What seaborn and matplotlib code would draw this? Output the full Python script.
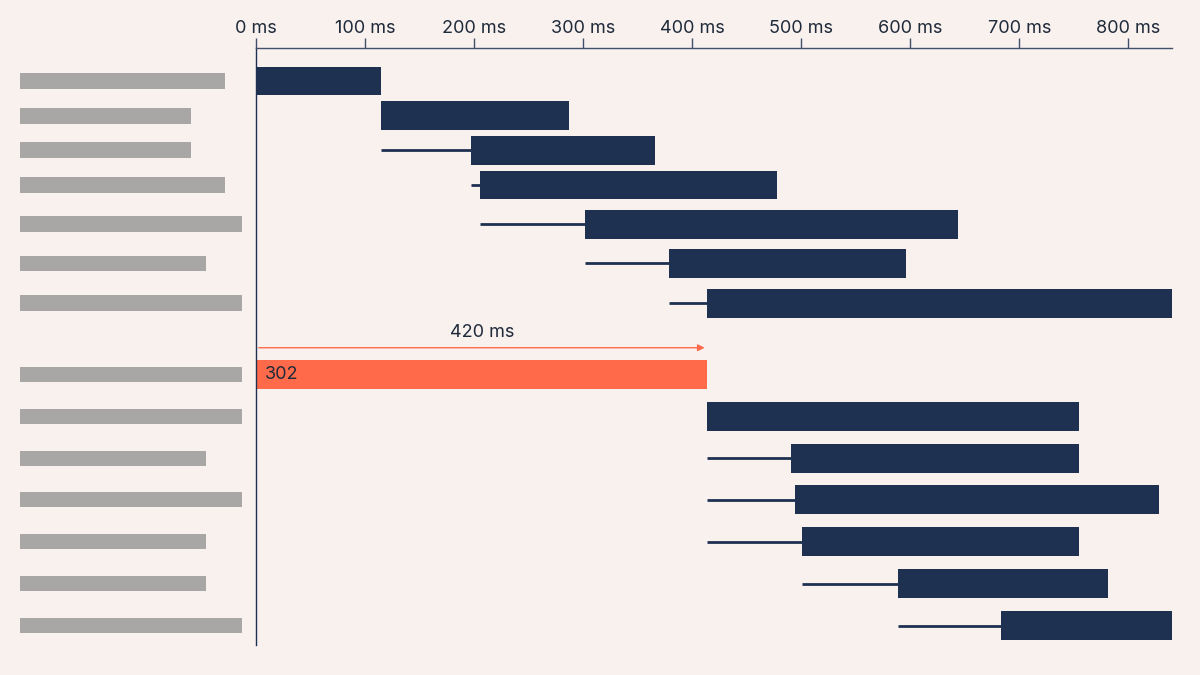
import matplotlib.pyplot as plt
import seaborn as sns
import pandas as pd

# waterfall data (ms)
rows = [0, 0.94, 1.86, 2.8, 3.85, 4.91, 5.98, 7.9, 9.03, 10.16, 11.27, 12.4, 13.53, 14.66]
wait_start = [0, 115, 115, 197, 205, 302, 379, 0, 414, 414, 414, 414, 501, 589]
bar_start = [0, 115, 197, 205, 302, 379, 414, 0, 414, 491, 494, 501, 589, 683]
bar_end = [115, 287, 366, 478, 644, 596, 840, 414, 755, 755, 828, 755, 781, 840]
label_len = [205, 171, 171, 205, 222, 186, 222, 222, 222, 186, 222, 186, 186, 222]
ticks = [0, 100, 200, 300, 400, 500, 600, 700, 800]
redirect_label = "302"
arrow_label = "420 ms"

df = pd.DataFrame({"row": rows, "wait": wait_start, "start": bar_start,
                   "end": bar_end, "lab": label_len})

bg = "#f8f1ee"
navy = "#1f3150"
orange = "#ff6b4a"
txt = "#1f2a3a"

sns.set_theme(style="white")
plt.rcParams["font.family"] = ["Inter", "DejaVu Sans"]

fig = plt.figure(figsize=(12, 6.75), dpi=100, facecolor=bg)
ax = fig.add_axes([0.2133, 0.044, 0.7634, 0.885], facecolor=bg)
axl = fig.add_axes([0.0167, 0.044, 0.19, 0.885], facecolor=bg)

ylim = (15.19, -0.89)
colors = [orange if i == 7 else navy for i in range(len(df))]

for i, r in df.iterrows():
    if r["start"] > r["wait"]:
        ax.hlines(r["row"], r["wait"], r["start"], color=navy, lw=2)
ax.barh(df["row"], df["end"] - df["start"], left=df["start"], height=0.78,
        color=colors, linewidth=0)
ax.text(8, rows[7], redirect_label, va="center", ha="left", fontsize=13, color=txt)
ax.annotate("", xy=(bar_end[7], rows[7] - 0.72), xytext=(0, rows[7] - 0.72),
            arrowprops=dict(arrowstyle="-|>", color=orange, lw=1, mutation_scale=10))
ax.text(bar_end[7] / 2, rows[7] - 0.9, arrow_label, ha="center", va="bottom",
        fontsize=13, color=txt)

ax.set_xlim(0, 840)
ax.set_ylim(*ylim)
ax.xaxis.tick_top()
ax.set_xticks(ticks)
ax.set_xticklabels([f"{t} ms" for t in ticks], fontsize=13, color=txt)
ax.tick_params(axis="x", length=7, width=1, color="#44506a", pad=1, direction="out")
ax.set_yticks([])
for s in ["right", "bottom"]:
    ax.spines[s].set_visible(False)
ax.spines["top"].set_color("#44506a")
ax.spines["top"].set_linewidth(1)
ax.spines["left"].set_color(navy)
ax.spines["left"].set_linewidth(1)

axl.barh(df["row"], df["lab"], height=0.42, color="#a9a6a6", linewidth=0)
axl.set_xlim(0, 228)
axl.set_ylim(*ylim)
axl.axis("off")

fig.savefig("out.png", facecolor=bg)
